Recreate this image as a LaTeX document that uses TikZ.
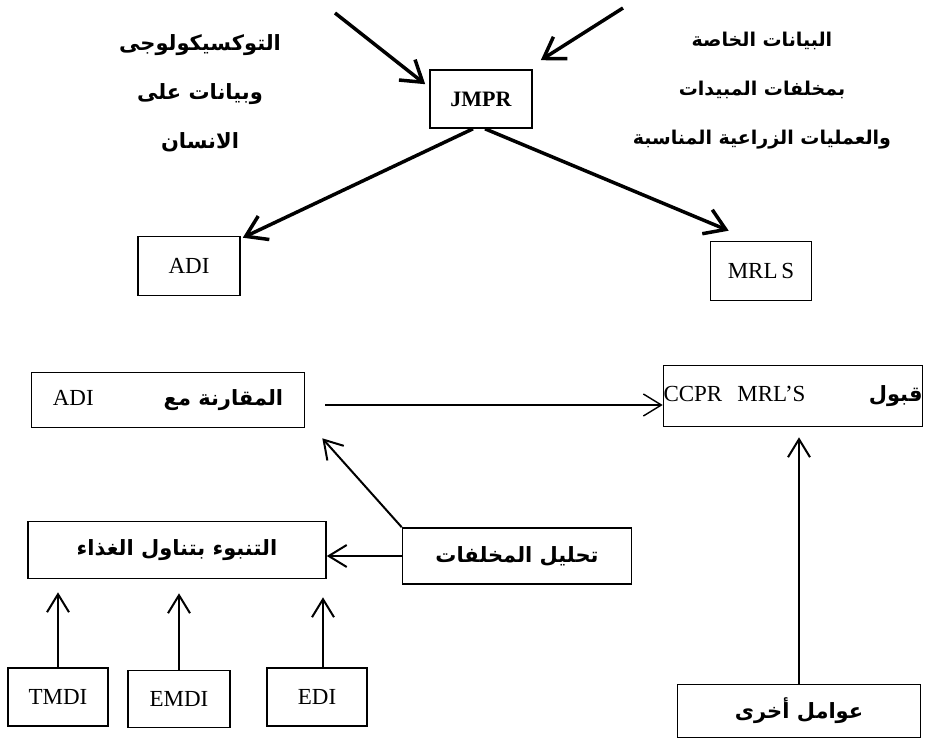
\documentclass[tikz,border=0pt]{standalone}
\usepackage{fontspec}
\setmainfont{Liberation Serif}
\newfontfamily\arabicfont[Script=Arabic]{DejaVu Sans}
\TeXXeTstate=1
\usetikzlibrary{arrows.meta}
\newcommand{\artext}[1]{{\arabicfont\bfseries\fontsize{21}{26}\selectfont\beginR #1\endR}}
\begin{document}
\begin{tikzpicture}[x=1pt,y=-1pt,
    box/.style={draw,line width=1.6pt,inner sep=0pt,font=\fontsize{23}{26}\selectfont},
    lbl/.style={align=center,font=\arabicfont\bfseries\fontsize{21}{49}\selectfont},
    bigarrow/.style={line width=3.5pt,-{Straight Barb[length=20pt,width=26pt]}},
    arr/.style={line width=2pt,-{Straight Barb[length=18pt,width=22pt]}}]
    \useasboundingbox (0,0) rectangle (927,743);
    \node[lbl] (tox) at (200,93) {\beginR التوكسيكولوجى\endR\\\beginR وبيانات على\endR\\\beginR الانسان\endR};
    \node[lbl,font=\arabicfont\bfseries\fontsize{19}{49}\selectfont] (resdata) at (762,91) {\beginR البيانات الخاصة\endR\\\beginR بمخلفات المبيدات\endR\\\beginR والعمليات الزراعية المناسبة\endR};
    \node[box,minimum width=102pt,minimum height=58pt,font=\bfseries\fontsize{22}{26}\selectfont] (jmpr) at (481,99) {JMPR};
    \node[box,minimum width=102pt,minimum height=59pt] (adi) at (189,266) {ADI};
    \node[box,minimum width=101pt,minimum height=59pt] (mrls) at (761,271) {MRL\,S};
    \node[box,minimum width=273pt,minimum height=55pt] (cmp) at (168,400) {ADI\hspace{70pt}\artext{المقارنة مع}};
    \node[box,text width=259pt,minimum height=61pt] (ccpr) at (793,396) {CCPR\hspace{15pt}MRL'S\hfill\artext{قبول}};
    \node[box,minimum width=298pt,minimum height=57pt] (food) at (177,550) {\artext{التنبوء بتناول الغذاء}};
    \node[box,minimum width=229pt,minimum height=56pt] (resid) at (517,556) {\artext{تحليل المخلفات}};
    \node[box,minimum width=100pt,minimum height=58pt] (tmdi) at (58,697) {TMDI};
    \node[box,minimum width=102pt,minimum height=57pt] (emdi) at (179,699) {EMDI};
    \node[box,minimum width=100pt,minimum height=58pt] (edi) at (317,697) {EDI};
    \node[box,minimum width=243pt,minimum height=53pt] (other) at (799,711) {\artext{عوامل أخرى}};
    \coordinate (src1) at (335,13);
    \coordinate (src2) at (623,8);
    \draw[bigarrow] (src1) -- ([xshift=-4pt,yshift=-15pt]jmpr.north west);
    \draw[bigarrow] (src2) -- ([xshift=8pt,yshift=9pt]jmpr.north east);
    \draw[bigarrow] ([xshift=-8pt]jmpr.south) -- ([xshift=2pt,yshift=-2pt]adi.north east);
    \draw[bigarrow] ([xshift=4pt]jmpr.south) -- ([xshift=19pt,yshift=10pt]mrls.north west);
    \draw[arr,line width=1.4pt] ([xshift=20pt,yshift=-5pt]cmp.east) -- ([yshift=-9pt]ccpr.west);
    \draw[arr] (resid.north west) -- ([xshift=17pt,yshift=-10pt]cmp.south east);
    \draw[arr] (resid.west) -- (resid.west -| food.east);
    \draw[arr,shorten >=13pt] (tmdi.north) -- (tmdi.north |- food.south);
    \draw[arr,shorten >=14pt] (emdi.north) -- (emdi.north |- food.south);
    \draw[arr,shorten >=18pt] ([xshift=6pt]edi.north) -- ([xshift=6pt]edi.north |- food.south);
    \draw[arr,shorten >=10pt] (other.north) -- (other.north |- ccpr.south);
\end{tikzpicture}
\end{document}
